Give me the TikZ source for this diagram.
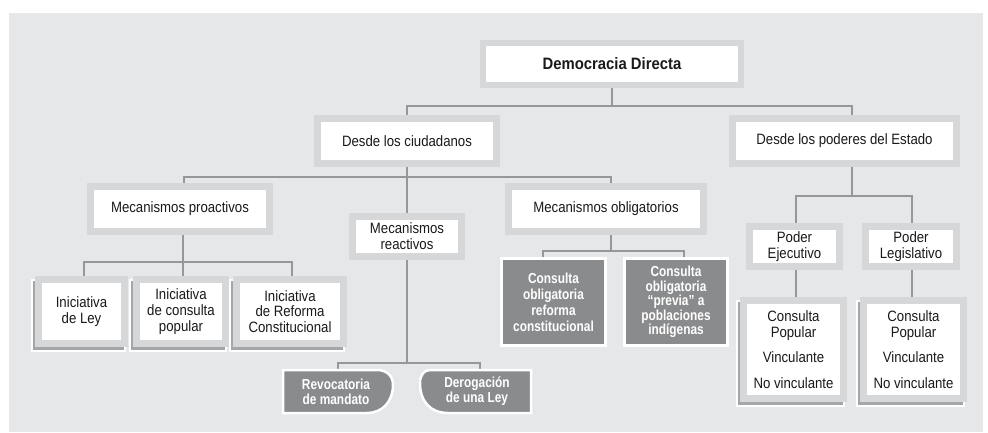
\documentclass[tikz,border=0pt]{standalone}
\usepackage{fontspec}
\setmainfont{Liberation Sans}[FakeStretch=0.88]
\newfontfamily\condbold{Liberation Sans}[FakeStretch=0.82]
\newfontfamily\titlefont{Liberation Sans}[FakeStretch=0.9]
\usetikzlibrary{calc,backgrounds}
\definecolor{panel}{RGB}{230,231,232}
\definecolor{framegray}{RGB}{214,215,217}
\definecolor{linegray}{RGB}{150,151,153}
\definecolor{darkbox}{RGB}{138,139,141}
\definecolor{shadowgray}{RGB}{165,166,168}
\definecolor{ink}{RGB}{26,26,26}
\tikzset{
  mybox/.style={draw=framegray, line width=7pt, fill=white, inner sep=0pt, align=center, text=ink,
    font=\fontsize{15}{15.8}\selectfont},
  darkrect/.style={draw=white, line width=3pt, fill=darkbox, inner sep=0pt, align=center, text=white,
    font={\condbold\bfseries\fontsize{14.5}{16}\selectfont}},
  darktext/.style={inner sep=0pt, align=center, text=white,
    font={\condbold\bfseries\fontsize{14.5}{15}\selectfont}},
  conn/.style={draw=linegray, line width=2pt},
  shadowbox/.style={fill=shadowgray, draw=white, line width=2pt}
}
\newcommand\leafbox[6]{%
  \path[shadowbox] ({#2-#4/2-3},{#3-#5/2+4}) rectangle ({#2+#4/2-3},{#3+#5/2+4});
  \node[mybox, minimum width={(#4-7)*1pt}, minimum height={(#5-7)*1pt}] (#1) at (#2,#3) {#6};
}
\begin{document}
\begin{tikzpicture}[x=1pt,y=-1pt]
\useasboundingbox (0,0) rectangle (988,432);
\begin{pgfonlayer}{background}
\fill[panel] (9,13) rectangle (983,432);
\end{pgfonlayer}

% top level
\node[mybox, line width=6pt, minimum width=258pt, minimum height=42pt,
  font={\titlefont\bfseries\fontsize{16.5}{18}\selectfont}] (top) at (612,64) {Democracia Directa};

\node[mybox, minimum width=179pt, minimum height=45pt] (ciud) at (407,141) {Desde los ciudadanos};
\node[mybox, minimum width=224pt, minimum height=45pt] (estado) at (844.5,141) {Desde los poderes del Estado};

\node[mybox, minimum width=179pt, minimum height=45pt] (proact) at (180,209) {Mecanismos proactivos};
\node[mybox, minimum width=109pt, minimum height=40pt] (react) at (407,236.5) {Mecanismos\\reactivos};
\node[mybox, minimum width=195pt, minimum height=45pt] (oblig) at (606,209) {Mecanismos obligatorios};

\node[mybox, minimum width=90pt, minimum height=40pt] (ejec) at (794.5,246.5) {Poder\\Ejecutivo};
\node[mybox, minimum width=91pt, minimum height=40pt] (legis) at (911,246.5) {Poder\\Legislativo};

% leaf boxes with shadow
\leafbox{ley}{81.5}{311.5}{93}{71}{Iniciativa\\de Ley}
\leafbox{cons}{181}{311.5}{96}{71}{Iniciativa\\de consulta\\popular}
\leafbox{refm}{290}{311.5}{114}{71}{Iniciativa\\de Reforma\\Constitucional}
\leafbox{cpa}{793.5}{349.5}{107}{105}{Consulta\\Popular\\[9pt]Vinculante\\[10pt]No vinculante}
\leafbox{cpb}{913.5}{349.5}{107}{105}{Consulta\\Popular\\[9pt]Vinculante\\[10pt]No vinculante}

% dark boxes
\node[darkrect, minimum width=104pt, minimum height=87pt] (oba) at (553.5,302) {Consulta\\obligatoria\\reforma\\constitucional};
\node[darkrect, minimum width=103pt, minimum height=87pt, font={\condbold\bfseries\fontsize{14.5}{14.6}\selectfont}] (obb) at (676,302) {Consulta\\obligatoria\\“previa” a\\poblaciones\\indígenas};

\path[fill=darkbox, draw=white, line width=2.5pt] (283,370) -- (377,370) .. controls (387,370) and (393,376) .. (393,385) .. controls (393,401) and (383,413) .. (367,413) -- (283,413) -- cycle;
\node[darktext, minimum width=110pt, minimum height=43pt] (rev) at (336,391.5) {Revocatoria\\de mandato};
\path[fill=darkbox, draw=white, line width=2.5pt] (531,370) -- (430,370) .. controls (424,370) and (420,375) .. (420,383) .. controls (420,401) and (430,413) .. (448,413) -- (531,413) -- cycle;
\node[darktext, minimum width=111pt, minimum height=43pt] (der) at (477,391.5) {Derogación\\de una Ley};

% connectors
\begin{pgfonlayer}{background}
\draw[conn] (top.south) -- ++(0,18) -| (ciud.north);
\draw[conn] (top.south) -- ++(0,18) -| ([xshift=7pt]estado.north);
\draw[conn] (ciud.south) -- (react.north);
\draw[conn] (ciud.south) -- ++(0,9.5) -| ([xshift=4pt]proact.north);
\draw[conn] (ciud.south) -- ++(0,9.5) -| ([xshift=5pt]oblig.north);
\draw[conn] ([xshift=7pt]estado.south) -- ++(0,28.5) -| ([xshift=1.5pt]ejec.north);
\draw[conn] ([xshift=7pt]estado.south) -- ++(0,28.5) -| ([xshift=1pt]legis.north);
\draw[conn] ([xshift=3pt]proact.south) -- ++(0,26.5) -| ([xshift=2.5pt]ley.north);
\draw[conn] ([xshift=3pt]proact.south) -- ++(0,26.5) -| ([xshift=2pt]cons.north);
\draw[conn] ([xshift=3pt]proact.south) -- ++(0,26.5) -| ([xshift=2pt]refm.north);
\draw[conn] (react.south) -- ++(0,102.5) -| ([xshift=2pt]rev.north);
\draw[conn] (react.south) -- ++(0,102.5) -| ([xshift=3pt]der.north);
\draw[conn] ([xshift=5pt]oblig.south) -- ++(0,15.5) -| ([xshift=-10.5pt]oba.north);
\draw[conn] ([xshift=5pt]oblig.south) -- ++(0,15.5) -| ([xshift=8pt]obb.north);
\draw[conn] ([xshift=1.5pt]ejec.south) -- ([xshift=1.5pt]ejec.south |- cpa.north);
\draw[conn] ([xshift=1pt]legis.south) -- ([xshift=1pt]legis.south |- cpb.north);
\end{pgfonlayer}
\end{tikzpicture}
\end{document}
